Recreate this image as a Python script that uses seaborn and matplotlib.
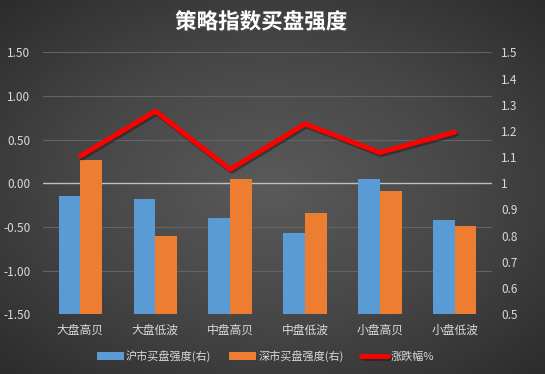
import numpy as np
import pandas as pd
import matplotlib.pyplot as plt
import matplotlib.patheffects as pe
from matplotlib.colors import LinearSegmentedColormap
import seaborn as sns

categories = ["大盘高贝", "大盘低波", "中盘高贝", "中盘低波", "小盘高贝", "小盘低波"]
sh_strength = [0.951, 0.939, 0.866, 0.809, 1.015, 0.859]
sz_strength = [1.088, 0.797, 1.015, 0.885, 0.969, 0.836]
pct_change = [0.313, 0.826, 0.160, 0.680, 0.352, 0.585]
series_names = ["沪市买盘强度(右)", "深市买盘强度(右)", "涨跌幅%"]
left_ticks = [-1.5, -1.0, -0.5, 0.0, 0.5, 1.0, 1.5]
right_ticks = [0.5, 0.6, 0.7, 0.8, 0.9, 1.0, 1.1, 1.2, 1.3, 1.4, 1.5]

sns.set_theme(style="white")
plt.rcParams['font.family'] = ['Noto Sans CJK SC', 'DejaVu Sans']
plt.rcParams['axes.unicode_minus'] = False

TXT = "#d9d9d9"

fig = plt.figure(figsize=(5.45, 3.74), dpi=100)

# radial gradient background like the excel chart area
bg = fig.add_axes([0, 0, 1, 1], zorder=-10)
yy, xx = np.mgrid[-1:1:200j, -1:1:300j]
r = np.sqrt(xx ** 2 + yy ** 2) / np.sqrt(2)
bg_cmap = LinearSegmentedColormap.from_list("bg", ["#5a5a5a", "#474747", "#2c2c2c"])
bg.imshow(r, cmap=bg_cmap, aspect="auto", extent=(0, 1, 0, 1))
bg.axis("off")

ax = fig.add_axes([0.079, 0.160, 0.824, 0.700])
ax.patch.set_visible(False)

df = pd.DataFrame({
    "category": categories * 2,
    "series": [series_names[0]] * len(categories) + [series_names[1]] * len(categories),
    "value": sh_strength + sz_strength,
})
sns.barplot(data=df, x="category", y="value", hue="series",
            palette=["#5B9BD5", "#ED7D31"], width=0.58, gap=0,
            saturation=1, linewidth=0, ax=ax, legend=True)
bar_handles, bar_labels = ax.get_legend_handles_labels()
ax.get_legend().remove()

ax.set_ylim(0.5, 1.5)
ax.set_xlim(-0.5, len(categories) - 0.5)

# gridlines follow the left axis ticks, drawn under the bars
for t in left_ticks:
    ax.axhline(1 + t / 3, color="#bfbfbf" if t == 0 else "#646464",
               lw=1.0 if t == 0 else 0.8, zorder=0)

ax2 = ax.twinx()
sns.lineplot(x=np.arange(len(categories)), y=pct_change, color="#FF0000",
             lw=3.5, ax=ax2, label=series_names[2], legend=False,
             path_effects=[pe.SimpleLineShadow(offset=(1, -1.5), alpha=0.5), pe.Normal()])
line_handles, line_labels = ax2.get_legend_handles_labels()
ax2.set_ylim(-1.5, 1.5)

ax.yaxis.tick_right()
ax2.yaxis.tick_left()
ax.set_yticks(right_ticks)
ax.set_yticklabels([f"{v:g}" for v in right_ticks])
ax2.set_yticks(left_ticks)
ax2.set_yticklabels([f"{v:.2f}" for v in left_ticks])

ax.set_xlabel("")
ax.set_ylabel("")
ax2.set_ylabel("")
ax.tick_params(axis="y", length=0, colors=TXT, labelsize=8.5, pad=6.5)
ax.tick_params(axis="x", length=0, colors=TXT, labelsize=8.5, pad=7)
ax2.tick_params(axis="y", length=0, colors=TXT, labelsize=8.5, pad=9)
for a in (ax, ax2):
    for s in a.spines.values():
        s.set_visible(False)

fig.text(0.479, 1 - 22 / 374, "策略指数买盘强度", ha="center", va="center",
         color="white", fontsize=15.5, fontweight="bold",
         path_effects=[pe.withSimplePatchShadow(offset=(1, -1), alpha=0.6)])

fig.legend(bar_handles + line_handles, bar_labels + line_labels,
           loc="center", bbox_to_anchor=(0.487, 0.048), ncol=3, frameon=False,
           fontsize=8, labelcolor=TXT, handlelength=2.4, handleheight=0.7,
           handletextpad=0.2, columnspacing=1.6)

fig.savefig("out.png", dpi=100)
